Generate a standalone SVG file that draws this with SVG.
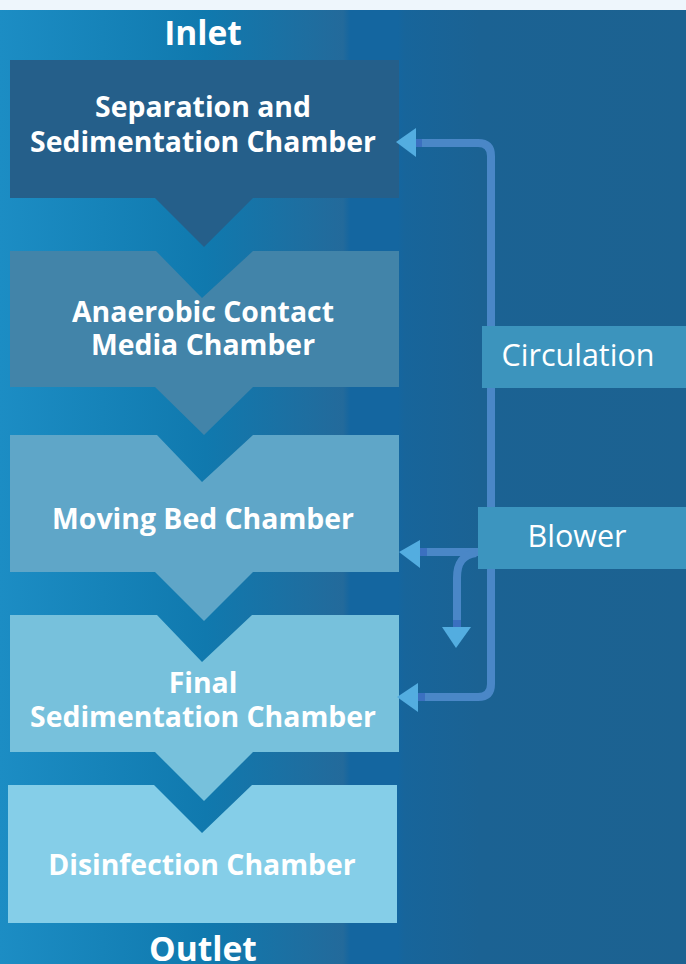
<svg xmlns="http://www.w3.org/2000/svg" width="686" height="964" viewBox="0 0 686 964">
<defs>
<linearGradient id="bg" x1="0" y1="0" x2="686" y2="0" gradientUnits="userSpaceOnUse">
<stop offset="0" stop-color="#1c8dc4"/>
<stop offset="0.3" stop-color="#1079ae"/>
<stop offset="0.5" stop-color="#236a9b"/>
<stop offset="0.51" stop-color="#1466a0"/>
<stop offset="0.58" stop-color="#1466a0"/>
<stop offset="0.59" stop-color="#17659b"/>
<stop offset="0.7" stop-color="#1b6293"/>
<stop offset="1" stop-color="#1c6291"/>
</linearGradient>
<style>
.lbl{font-family:"Open Sans","DejaVu Sans",sans-serif;font-weight:700;fill:#ffffff;text-anchor:middle;font-size:28.4px}
.end{font-size:33.5px}
.side{font-weight:400;font-size:30.5px}
.pipe{fill:none;stroke:#4a87c7;stroke-width:8}
.head{fill:#53ade0}
.join{fill:#3b70c0}
</style>
</defs>
<rect x="0" y="0" width="686" height="964" fill="#eef6fc"/>
<rect x="0" y="10" width="686" height="954" fill="url(#bg)"/>

<g id="inlet"><text class="lbl end" x="203" y="45">Inlet</text></g>

<g id="separation">
<path d="M10,60 H399 V198 H253 L204,247 L155,198 H10 Z" fill="#255f8a"/>
<text class="lbl" x="203" y="117">Separation and</text>
<text class="lbl" x="203" y="152">Sedimentation Chamber</text>
</g>
<g id="anaerobic">
<path d="M10,251 H156 L202,298 L253,251 H399 V387 H253 L204,435 L155,387 H10 Z" fill="#4284a9"/>
<text class="lbl" x="203" y="322">Anaerobic Contact</text>
<text class="lbl" x="203" y="355">Media Chamber</text>
</g>
<g id="movingbed">
<path d="M10,435 H157 L202,482 L253,435 H399 V572 H253 L204,621 L155,572 H10 Z" fill="#5fa6c8"/>
<text class="lbl" x="203" y="529">Moving Bed Chamber</text>
</g>
<g id="final">
<path d="M10,615 H157 L202,662 L252,615 H399 V752 H253 L204,801 L155,752 H10 Z" fill="#77c1dc"/>
<text class="lbl" x="203" y="693">Final</text>
<text class="lbl" x="203" y="727">Sedimentation Chamber</text>
</g>
<g id="disinfection">
<path d="M8,785 H154 L202,833 L252,785 H397 V923 H8 Z" fill="#85cee8"/>
<text class="lbl" x="202" y="875">Disinfection Chamber</text>
</g>
<g id="outlet"><text class="lbl end" x="203" y="961">Outlet</text></g>

<g id="connectors">
<path class="pipe" d="M416,143 H478 Q491,143 491,156 V684 Q491,697 478,697 H418"/>
<rect class="join" x="416" y="139" width="6" height="8"/>
<polygon class="head" points="396,142 416,128 416,157"/>
<rect class="join" x="418" y="693" width="7" height="8"/>
<polygon class="head" points="397,697 418,683 418,712"/>
<path class="pipe" d="M420,552 H478"/>
<path class="pipe" d="M476,553 C463,555 457,562 457,578 V622"/>
<rect class="join" x="420" y="548" width="7" height="8"/>
<polygon class="head" points="399,552 420,540 420,568"/>
<rect class="join" x="453" y="620" width="8" height="7"/>
<polygon class="head" points="442,627 471,627 456,648"/>
</g>

<g id="circulation">
<rect x="482" y="326" width="204" height="62" fill="#3c94bd"/>
<text class="lbl side" x="578" y="366">Circulation</text>
</g>
<g id="blower">
<rect x="478" y="507" width="208" height="62" fill="#3c95bf"/>
<text class="lbl side" x="577" y="547">Blower</text>
</g>
</svg>
